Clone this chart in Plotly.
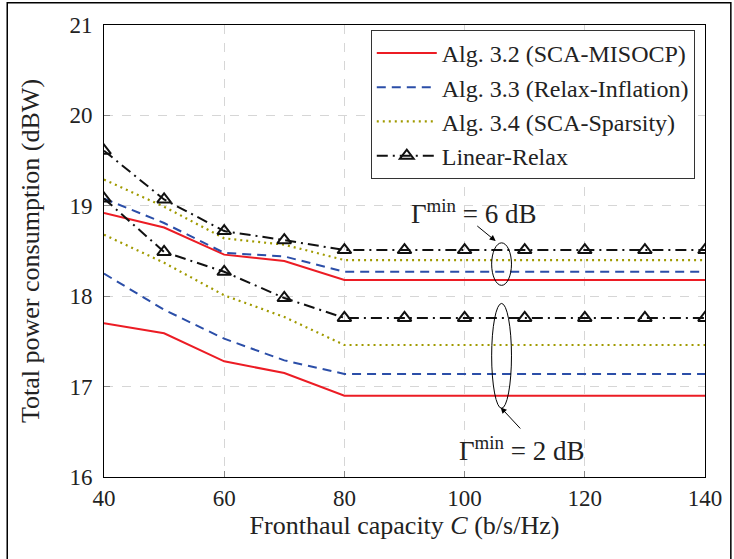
import plotly.graph_objects as go

capacity = [40, 50, 60, 70, 80, 90, 100, 110, 120, 130, 140]

# Gamma_min = 6 dB
sca_misocp_6 = [18.92, 18.76, 18.46, 18.39, 18.18, 18.18, 18.18, 18.18, 18.18, 18.18, 18.18]
relax_infl_6 = [19.08, 18.81, 18.48, 18.44, 18.27, 18.27, 18.27, 18.27, 18.27, 18.27, 18.27]
sca_spars_6 = [19.29, 18.99, 18.64, 18.57, 18.40, 18.40, 18.40, 18.40, 18.40, 18.40, 18.40]
linear_relax_6 = [19.61, 19.07, 18.72, 18.62, 18.51, 18.51, 18.51, 18.51, 18.51, 18.51, 18.51]

# Gamma_min = 2 dB
sca_misocp_2 = [17.70, 17.59, 17.28, 17.15, 16.90, 16.90, 16.90, 16.90, 16.90, 16.90, 16.90]
relax_infl_2 = [18.25, 17.85, 17.53, 17.29, 17.14, 17.14, 17.14, 17.14, 17.14, 17.14, 17.14]
sca_spars_2 = [18.68, 18.37, 18.01, 17.77, 17.46, 17.46, 17.46, 17.46, 17.46, 17.46, 17.46]
linear_relax_2 = [19.08, 18.49, 18.27, 17.98, 17.76, 17.76, 17.76, 17.76, 17.76, 17.76, 17.76]

names = ["Alg. 3.2 (SCA-MISOCP)", "Alg. 3.3 (Relax-Inflation)",
         "Alg. 3.4 (SCA-Sparsity)", "Linear-Relax"]

RED = "#ec1c24"
BLUE = "#2b4ea8"
OLIVE = "#a09a00"
BLACK = "#111111"
FONT = "Liberation Serif"

fig = go.Figure()

styles = [
    dict(line=dict(color=RED, width=2, dash="solid"), mode="lines"),
    dict(line=dict(color=BLUE, width=2, dash="9px,6px"), mode="lines"),
    dict(line=dict(color=OLIVE, width=2.2, dash="2px,4px"), mode="lines"),
    dict(line=dict(color=BLACK, width=2, dash="11px,5px,2px,5px"), mode="lines+markers",
         marker=dict(symbol="triangle-up-open", size=12, color=BLACK, line=dict(width=2, color=BLACK))),
]

groups = [
    [sca_misocp_6, relax_infl_6, sca_spars_6, linear_relax_6],
    [sca_misocp_2, relax_infl_2, sca_spars_2, linear_relax_2],
]

for gi, grp in enumerate(groups):
    for i, ys in enumerate(grp):
        fig.add_trace(go.Scatter(x=capacity, y=ys, name=names[i],
                                 showlegend=(gi == 0), **styles[i]))

# ellipses
fig.add_shape(type="circle", xref="x", yref="y", x0=104.5, x1=107.8, y0=18.12, y1=18.59,
              line=dict(color="black", width=1))
fig.add_shape(type="circle", xref="x", yref="y", x0=104.5, x1=107.8, y0=16.76, y1=17.92,
              line=dict(color="black", width=1))

# outer frame
fig.add_shape(type="rect", xref="paper", yref="paper", x0=-0.161, x1=1.043, y0=-0.2, y1=1.049,
              line=dict(color="black", width=1.5), layer="below")

# annotations
fig.add_annotation(x=101.5, y=18.93, text="Γ<sup>min</sup> = 6 dB", showarrow=False,
                   font=dict(family=FONT, size=27, color="#222"))
fig.add_annotation(x=105.17, y=18.61, ax=101.86, ay=18.79, axref="x", ayref="y", text="",
                   showarrow=True, arrowhead=2, arrowsize=1.2, arrowwidth=1, arrowcolor="black")
fig.add_annotation(x=109.5, y=16.31, text="Γ<sup>min</sup> = 2 dB", showarrow=False,
                   font=dict(family=FONT, size=27, color="#222"))
fig.add_annotation(x=106.0, y=16.77, ax=109.5, ay=16.52, axref="x", ayref="y", text="",
                   showarrow=True, arrowhead=2, arrowsize=1.2, arrowwidth=1, arrowcolor="black")

axis_common = dict(
    showline=True, linecolor="black", linewidth=1, mirror=True,
    showgrid=True, gridcolor="#d6d6d6", griddash="dash", gridwidth=1,
    ticks="inside", ticklen=6, tickcolor="#888", zeroline=False,
    tickfont=dict(family=FONT, size=23, color="#222"),
)

fig.update_layout(
    width=734, height=559,
    margin=dict(l=104, r=27, t=25, b=82),
    paper_bgcolor="white", plot_bgcolor="white",
    font=dict(family=FONT, size=20, color="#222"),
    xaxis=dict(range=[40, 140], dtick=20, tick0=40,
               title=dict(text="Fronthaul capacity <i>C</i> (b/s/Hz)", font=dict(family=FONT, size=26), standoff=6),
               **axis_common),
    yaxis=dict(range=[16, 21], dtick=1, ticklabelstandoff=6,
               title=dict(text="Total power consumption (dBW)", font=dict(family=FONT, size=26), standoff=22),
               **axis_common),
    legend=dict(x=0.983, y=0.989, xanchor="right", yanchor="top",
                bgcolor="white", bordercolor="#333", borderwidth=1,
                font=dict(family=FONT, size=24, color="#222"),
                tracegroupgap=0, itemwidth=60),
    showlegend=True,
)

fig.write_html("out.html")
